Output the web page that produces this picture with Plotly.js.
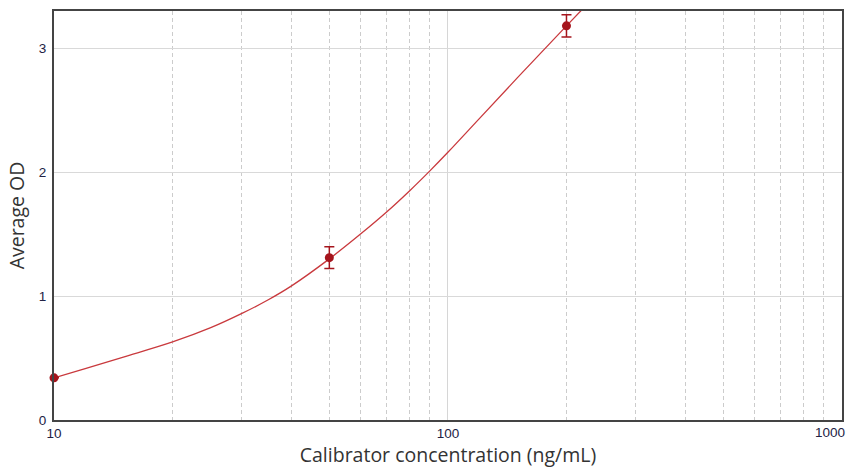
<!DOCTYPE html>
<html>
<head>
<meta charset="utf-8">
<script src="https://cdn.plot.ly/plotly-3.0.1.min.js"></script>
<style>
html,body{margin:0;padding:0;background:#fff;}
#chart{width:848px;height:470px;}
</style>
</head>
<body>
<div id="chart"></div>
<script>
// Calibrator points (mean OD with error)
var calibConc = [10, 50, 200];
var calibOD = [0.34, 1.31, 3.18];
var calibErr = [0, 0.087, 0.09];

// Fitted curve
var curveConc = [10, 12, 15, 20, 25, 30, 35, 40, 50, 60, 70, 80, 90, 100, 120, 150, 200, 225];
var curveOD = [0.34, 0.415, 0.508, 0.63, 0.745, 0.86, 0.97, 1.08, 1.30, 1.50, 1.68, 1.85, 2.01, 2.16, 2.43, 2.76, 3.18, 3.35];

// Tick labels
var xTickVals = [10, 100];
var xTickText = ['10', '100'];
var xLastTick = 1000;
var xLastTickText = '1000';
var xMinorVals = [20, 30, 40, 50, 60, 70, 80, 90, 200, 300, 400, 500, 600, 700, 800, 900];
var yTickVals = [0, 1, 2, 3];

var lineColor = '#c9393d';
var markColor = '#a5141c';

var traces = [
  {
    x: curveConc, y: curveOD, type: 'scatter', mode: 'lines',
    line: {color: lineColor, width: 1.3, shape: 'spline', smoothing: 1},
    hoverinfo: 'skip', showlegend: false, cliponaxis: true
  },
  {
    x: calibConc, y: calibOD, type: 'scatter', mode: 'markers',
    marker: {color: markColor, size: 9},
    error_y: {type: 'data', array: calibErr, visible: true, color: markColor, thickness: 1.5, width: 5},
    showlegend: false, cliponaxis: false
  }
];

var tickFont = {size: 13.5, color: '#222244', family: 'Arial, "Liberation Sans", sans-serif'};
var titleFont = {size: 19.5, color: '#333', family: '"Open Sans", sans-serif'};

var layout = {
  width: 848, height: 470,
  margin: {l: 54, r: 5.5, t: 10.5, b: 50},
  paper_bgcolor: '#fff', plot_bgcolor: '#fff',
  font: {family: '"Open Sans", sans-serif', color: '#333'},
  xaxis: {
    type: 'log', range: [1, 3.0005],
    tickmode: 'array', tickvals: xTickVals, ticktext: xTickText,
    tickfont: tickFont,
    showgrid: true, gridcolor: '#d6d6d6', gridwidth: 1,
    minor: {tickmode: 'array', tickvals: xMinorVals, showgrid: true, gridcolor: '#cccccc', griddash: '4px,3px', gridwidth: 1, ticks: ''},
    showline: true, linecolor: '#444', linewidth: 2, mirror: true,
    zeroline: false, ticks: '',
    title: {text: 'Calibrator concentration (ng/mL)', font: titleFont, standoff: 5}
  },
  yaxis: {
    range: [0, 3.3],
    tickmode: 'array', tickvals: yTickVals,
    tickfont: tickFont, ticklabelstandoff: 3,
    showgrid: true, gridcolor: '#d9d9d9', gridwidth: 1,
    showline: true, linecolor: '#444', linewidth: 2, mirror: true,
    zeroline: false, ticks: '',
    title: {text: 'Average OD', font: titleFont, standoff: 9}
  },
  annotations: [{
    x: Math.log10(xLastTick), xref: 'x', y: 0, yref: 'paper',
    text: xLastTickText, showarrow: false,
    xanchor: 'right', yanchor: 'top', xshift: 5, yshift: -3,
    font: tickFont
  }]
};

Plotly.newPlot('chart', traces, layout, {displayModeBar: false, staticPlot: true});
</script>
</body>
</html>
